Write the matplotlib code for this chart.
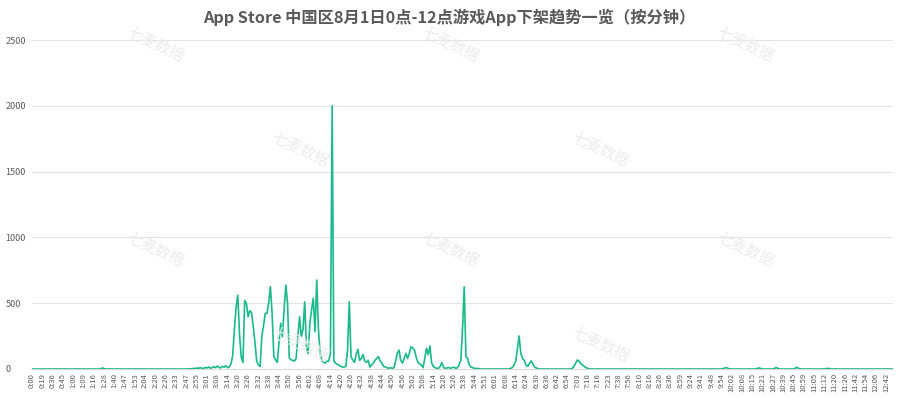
import matplotlib.pyplot as plt
import numpy as np

plt.rcParams['font.family'] = ['Noto Sans CJK SC', 'DejaVu Sans']

title = "App Store 中国区8月1日0点-12点游戏App下架趋势一览（按分钟）"

# labels shown under the axis (one every 6 minutes-with-data)
tick_labels = ["0:00", "0:19", "0:36", "0:45", "1:00", "1:09", "1:16", "1:28", "1:40", "1:47",
               "1:53", "2:04", "2:20", "2:26", "2:33", "2:47", "2:55", "3:01", "3:08", "3:14",
               "3:20", "3:26", "3:32", "3:38", "3:44", "3:50", "3:56", "4:02", "4:08", "4:14",
               "4:20", "4:26", "4:32", "4:38", "4:44", "4:50", "4:56", "5:02", "5:08", "5:14",
               "5:20", "5:26", "5:38", "5:44", "5:51", "6:01", "6:08", "6:14", "6:24", "6:30",
               "6:36", "6:42", "6:54", "7:03", "7:10", "7:16", "7:23", "7:38", "7:56", "8:10",
               "8:16", "8:26", "8:36", "8:59", "9:24", "9:41", "9:48", "9:54", "10:02", "10:08",
               "10:15", "10:21", "10:27", "10:39", "10:45", "10:59", "11:05", "11:12", "11:20", "11:26",
               "11:42", "11:54", "12:06", "12:42"]
label_every = 6

# removed apps per minute
early = [0] * 41 + [8, 3] + [0] * 49
warmup = [3, 0, 5, 2, 8, 4, 10, 6, 3, 12, 8, 15, 6, 10, 18, 10, 22, 12, 8, 20, 14, 25, 10, 15]
peak = [40, 100, 300, 470, 560, 260, 90, 50, 520, 500,
        397, 443, 428, 322, 200, 60, 30, 20, 246, 330,
        423, 424, 500, 625, 420, 94, 70, 50, 200, 347,
        245, 450, 638, 500, 84, 70, 66, 60, 80, 250,
        397, 246, 300, 511, 169, 117, 347, 450, 537, 283,
        676, 300, 120, 66, 50, 45, 60, 60, 120, 2000,
        60, 45, 35, 30, 20, 15, 15, 20, 150, 511,
        94, 70, 50, 110, 150, 66, 80, 110, 60, 50,
        66, 15, 30, 45, 66, 80, 94, 60, 45, 20,
        15, 10, 5, 10, 5, 10, 60, 120, 144, 66,
        45, 80, 119, 80, 120, 169, 160, 144, 90, 50,
        40, 30, 10, 80, 157, 110, 175, 45, 20, 10,
        5, 5, 20, 50, 10, 5, 8, 12, 5, 10,
        15, 5, 10, 30, 66, 300, 625, 94, 80, 30,
        15, 10, 5, 3, 5, 0]
morning = ([0] * 17 + [5, 10, 30, 60, 150, 251, 120, 80, 66, 30, 20, 40, 61, 40, 15, 8, 3]
           + [0] * 19 + [5, 20, 45, 68, 60, 40, 30, 20, 10, 5])
late = ([0] * 78 + [3, 8, 10, 4] + [0] * 16 + [5, 8, 4] + [0] * 7 + [6, 10, 5]
        + [0] * 9 + [6, 12, 5] + [0] * 15 + [3, 5, 2] + [0] * 37)

values = np.array(early + warmup + peak + morning + late)
x = np.arange(len(values))

fig = plt.figure(figsize=(8.99, 3.97), dpi=100)
ax = fig.add_axes([32 / 899, 28 / 397, 861 / 899, 329 / 397])

ax.plot(x, values, color='#1ab98b', lw=1.2, zorder=3)

ax.set_xlim(0, len(values) - 1)
ax.set_ylim(0, 2500)
ax.set_yticks(np.arange(0, 2501, 500))
ax.grid(axis='y', color='#e3e3e3', lw=0.8)
ax.set_axisbelow(True)
for s in ['top', 'right', 'left']:
    ax.spines[s].set_visible(False)
ax.spines['bottom'].set_color('#d9d9d9')

ax.set_xticks(np.arange(len(tick_labels)) * label_every)
ax.set_xticklabels(tick_labels, rotation=90, fontsize=5.5, color='#595959')
ax.tick_params(axis='x', length=0, pad=3)
ax.tick_params(axis='y', length=0, pad=19, labelsize=6.5, labelcolor='#595959')
for lab in ax.get_yticklabels():
    lab.set_horizontalalignment('left')

fig.text(0.5, 1 - 17 / 397, title, ha='center', va='center', fontsize=11.7,
         fontweight='bold', color='#595959')

# watermark
marks = [(155, 45), (450, 45), (745, 45), (300, 150), (600, 150),
         (155, 250), (450, 250), (745, 250), (300, 345), (600, 345)]
for mx, my in marks:
    fig.text(mx / 899, 1 - my / 397, "七麦数据", ha='center', va='center', fontsize=11,
             color='#ececec', rotation=-25, zorder=0)

fig.savefig('out.png', dpi=100)
